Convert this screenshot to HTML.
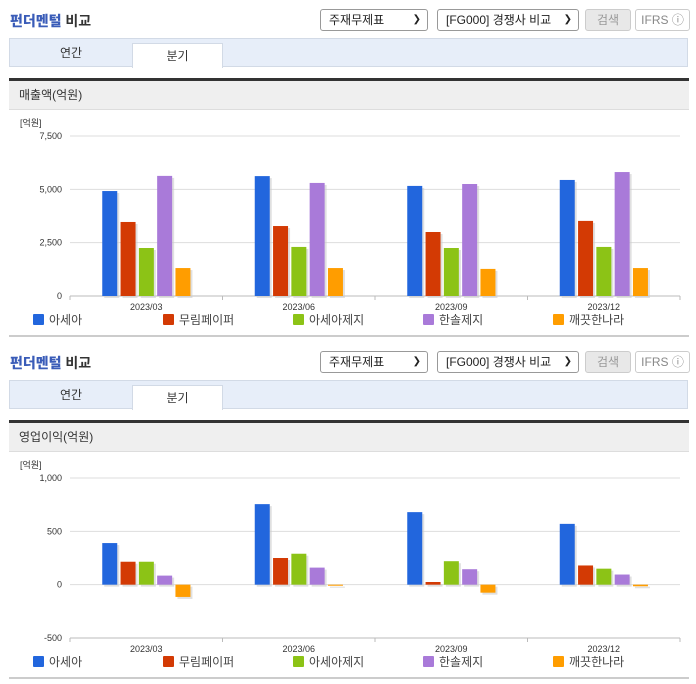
<!DOCTYPE html>
<html><head><meta charset="utf-8">
<style>
body{margin:0;width:696px;height:684px;background:#fff;font-family:"Liberation Sans","Noto Sans CJK KR",sans-serif;position:relative;overflow:hidden}
.sec{position:absolute;left:0;width:696px;height:342px}
.title{position:absolute;left:10px;top:11px;font-size:14px;font-weight:bold;color:#333}
.title b{color:#3a5cb8}
.sel{position:absolute;top:9px;height:20px;border:1px solid #999;border-radius:3px;font-size:12px;line-height:20px;padding-left:8px;box-sizing:content-box;color:#222;background:#fff}
.sel i{position:absolute;right:6px;top:0;font-style:normal;font-size:10px}
.btn{position:absolute;top:9px;height:20px;border:1px solid #ccc;border-radius:3px;font-size:12px;line-height:20px;text-align:center;color:#999}
.tabbar{position:absolute;left:9px;top:38px;width:679px;height:29px;background:#e7eef9;border:1px solid #d2dae6;box-sizing:border-box}
.tab{position:absolute;top:0;height:29px;line-height:29px;font-size:12px;text-align:center;color:#333}
.tab.on{background:#fff;top:4px;height:25px;line-height:24px;border:1px solid #d2dae6;border-bottom:none;box-sizing:border-box}
.dark{position:absolute;left:9px;top:78px;width:680px;height:3px;background:#333}
.hdr{position:absolute;left:9px;top:81px;width:680px;height:29px;background:#efefef;border-bottom:1px solid #ddd;font-size:12px;line-height:29px;padding-left:10px;box-sizing:border-box;color:#333}
.foot{position:absolute;left:9px;top:335px;width:680px;height:2px;background:#ccc}
svg{position:absolute;left:0;top:0}
</style></head><body>
<div class="sec" id="s1" style="top:0">
 <div class="title"><b>펀더멘털</b> 비교</div>
 <div class="sel" style="left:320px;width:98px">주재무제표<i>&#10095;</i></div>
 <div class="sel" style="left:437px;width:132px">[FG000] 경쟁사 비교<i>&#10095;</i></div>
 <div class="btn" style="left:585px;width:44px;background:#e8e8e8">검색</div>
 <div class="btn" style="left:635px;width:53px;color:#888">IFRS ⓘ</div>
 <div class="tabbar">
  <div class="tab" style="left:0;width:122px">연간</div>
  <div class="tab on" style="left:122px;width:91px">분기</div>
 </div>
 <div class="dark"></div>
 <div class="hdr">매출액(억원)</div>
 <div class="foot"></div>
</div>
<div class="sec" id="s2" style="top:342px">
 <div class="title"><b>펀더멘털</b> 비교</div>
 <div class="sel" style="left:320px;width:98px">주재무제표<i>&#10095;</i></div>
 <div class="sel" style="left:437px;width:132px">[FG000] 경쟁사 비교<i>&#10095;</i></div>
 <div class="btn" style="left:585px;width:44px;background:#e8e8e8">검색</div>
 <div class="btn" style="left:635px;width:53px;color:#888">IFRS ⓘ</div>
 <div class="tabbar">
  <div class="tab" style="left:0;width:122px">연간</div>
  <div class="tab on" style="left:122px;width:91px">분기</div>
 </div>
 <div class="dark"></div>
 <div class="hdr">영업이익(억원)</div>
 <div class="foot"></div>
</div>
<script>
const categories=["2023/03","2023/06","2023/09","2023/12"];
const seriesNames=["아세아","무림페이퍼","아세아제지","한솔제지","깨끗한나라"];
const seriesColors=["#2266dd","#d33a04","#8cc316","#a97ad9","#ff9d00"];
const salesAsea=[4920,5620,5160,5440];
const salesMoorim=[3470,3280,3000,3520];
const salesAseaPaper=[2250,2300,2250,2300];
const salesHansol=[5630,5300,5250,5810];
const salesKkae=[1310,1310,1270,1310];
const salesTicks=[0,2500,5000,7500];
const opAsea=[390,755,680,570];
const opMoorim=[215,250,25,180];
const opAseaPaper=[215,290,220,150];
const opHansol=[85,160,145,95];
const opKkae=[-115,-10,-75,-15];
const opTicks=[-500,0,500,1000];
const NS="http://www.w3.org/2000/svg";
function mk(p,t,a){const e=document.createElementNS(NS,t);for(const k in a)e.setAttribute(k,a[k]);p.appendChild(e);return e;}
function chart(secId,series,ticks,top,bottom,name){
 const sec=document.getElementById(secId);
 const svg=mk(sec,"svg",{width:696,height:342});
 
 
 const x0=70,x1=680,min=ticks[0],max=ticks[ticks.length-1];
 const y=v=>bottom-(v-min)/(max-min)*(bottom-top);
 const cw=(x1-x0)/categories.length;
 const u=mk(svg,"text",{x:20,y:top-10,"font-size":9,fill:"#333"});u.textContent="[억원]";
 ticks.forEach(t=>{
  mk(svg,"line",{x1:x0,x2:x1,y1:y(t),y2:y(t),stroke:t===min?"#bbb":"#ddd","stroke-width":1});
  const tx=mk(svg,"text",{x:62,y:y(t)+3,"font-size":9,fill:"#333","text-anchor":"end"});
  
  
  tx.textContent=t.toLocaleString("en-US");
 });
 for(let i=0;i<=categories.length;i++){mk(svg,"line",{x1:x0+i*cw,x2:x0+i*cw,y1:bottom,y2:bottom+4,stroke:"#bbb"});}
 categories.forEach((c,i)=>{
  const cx=x0+cw*(i+0.5);
  series.forEach((vals,s)=>{
   const v=vals[i],bx=cx-44+s*18.3;
   const ya=y(Math.max(v,0)),yb=y(Math.min(v,0));
   mk(svg,"rect",{x:bx+2,y:ya+2,width:15,height:Math.max(yb-ya,1),fill:"#ccc",opacity:0.6});
   const r=mk(svg,"rect",{x:bx,y:ya,width:15,height:Math.max(yb-ya,1),fill:seriesColors[s]});
   
   
  });
  const lb=mk(svg,"text",{x:cx,y:bottom+14,"font-size":9,fill:"#333","text-anchor":"middle"});
  
  
  lb.textContent=c;
 });
 seriesNames.forEach((n,s)=>{
  const lx=33+s*130,ly=bottom+18;
  const g=mk(svg,"g",{});
  
  
  mk(g,"rect",{x:lx,y:ly,width:11,height:11,fill:seriesColors[s],rx:1});
  const t=mk(g,"text",{x:lx+16,y:ly+10,"font-size":12,fill:"#444"});t.textContent=n;
 });
}
chart("s1",[salesAsea,salesMoorim,salesAseaPaper,salesHansol,salesKkae],salesTicks,136,296,"sales-chart");
chart("s2",[opAsea,opMoorim,opAseaPaper,opHansol,opKkae],opTicks,136,296,"op-profit-chart");
</script>
</body></html>
